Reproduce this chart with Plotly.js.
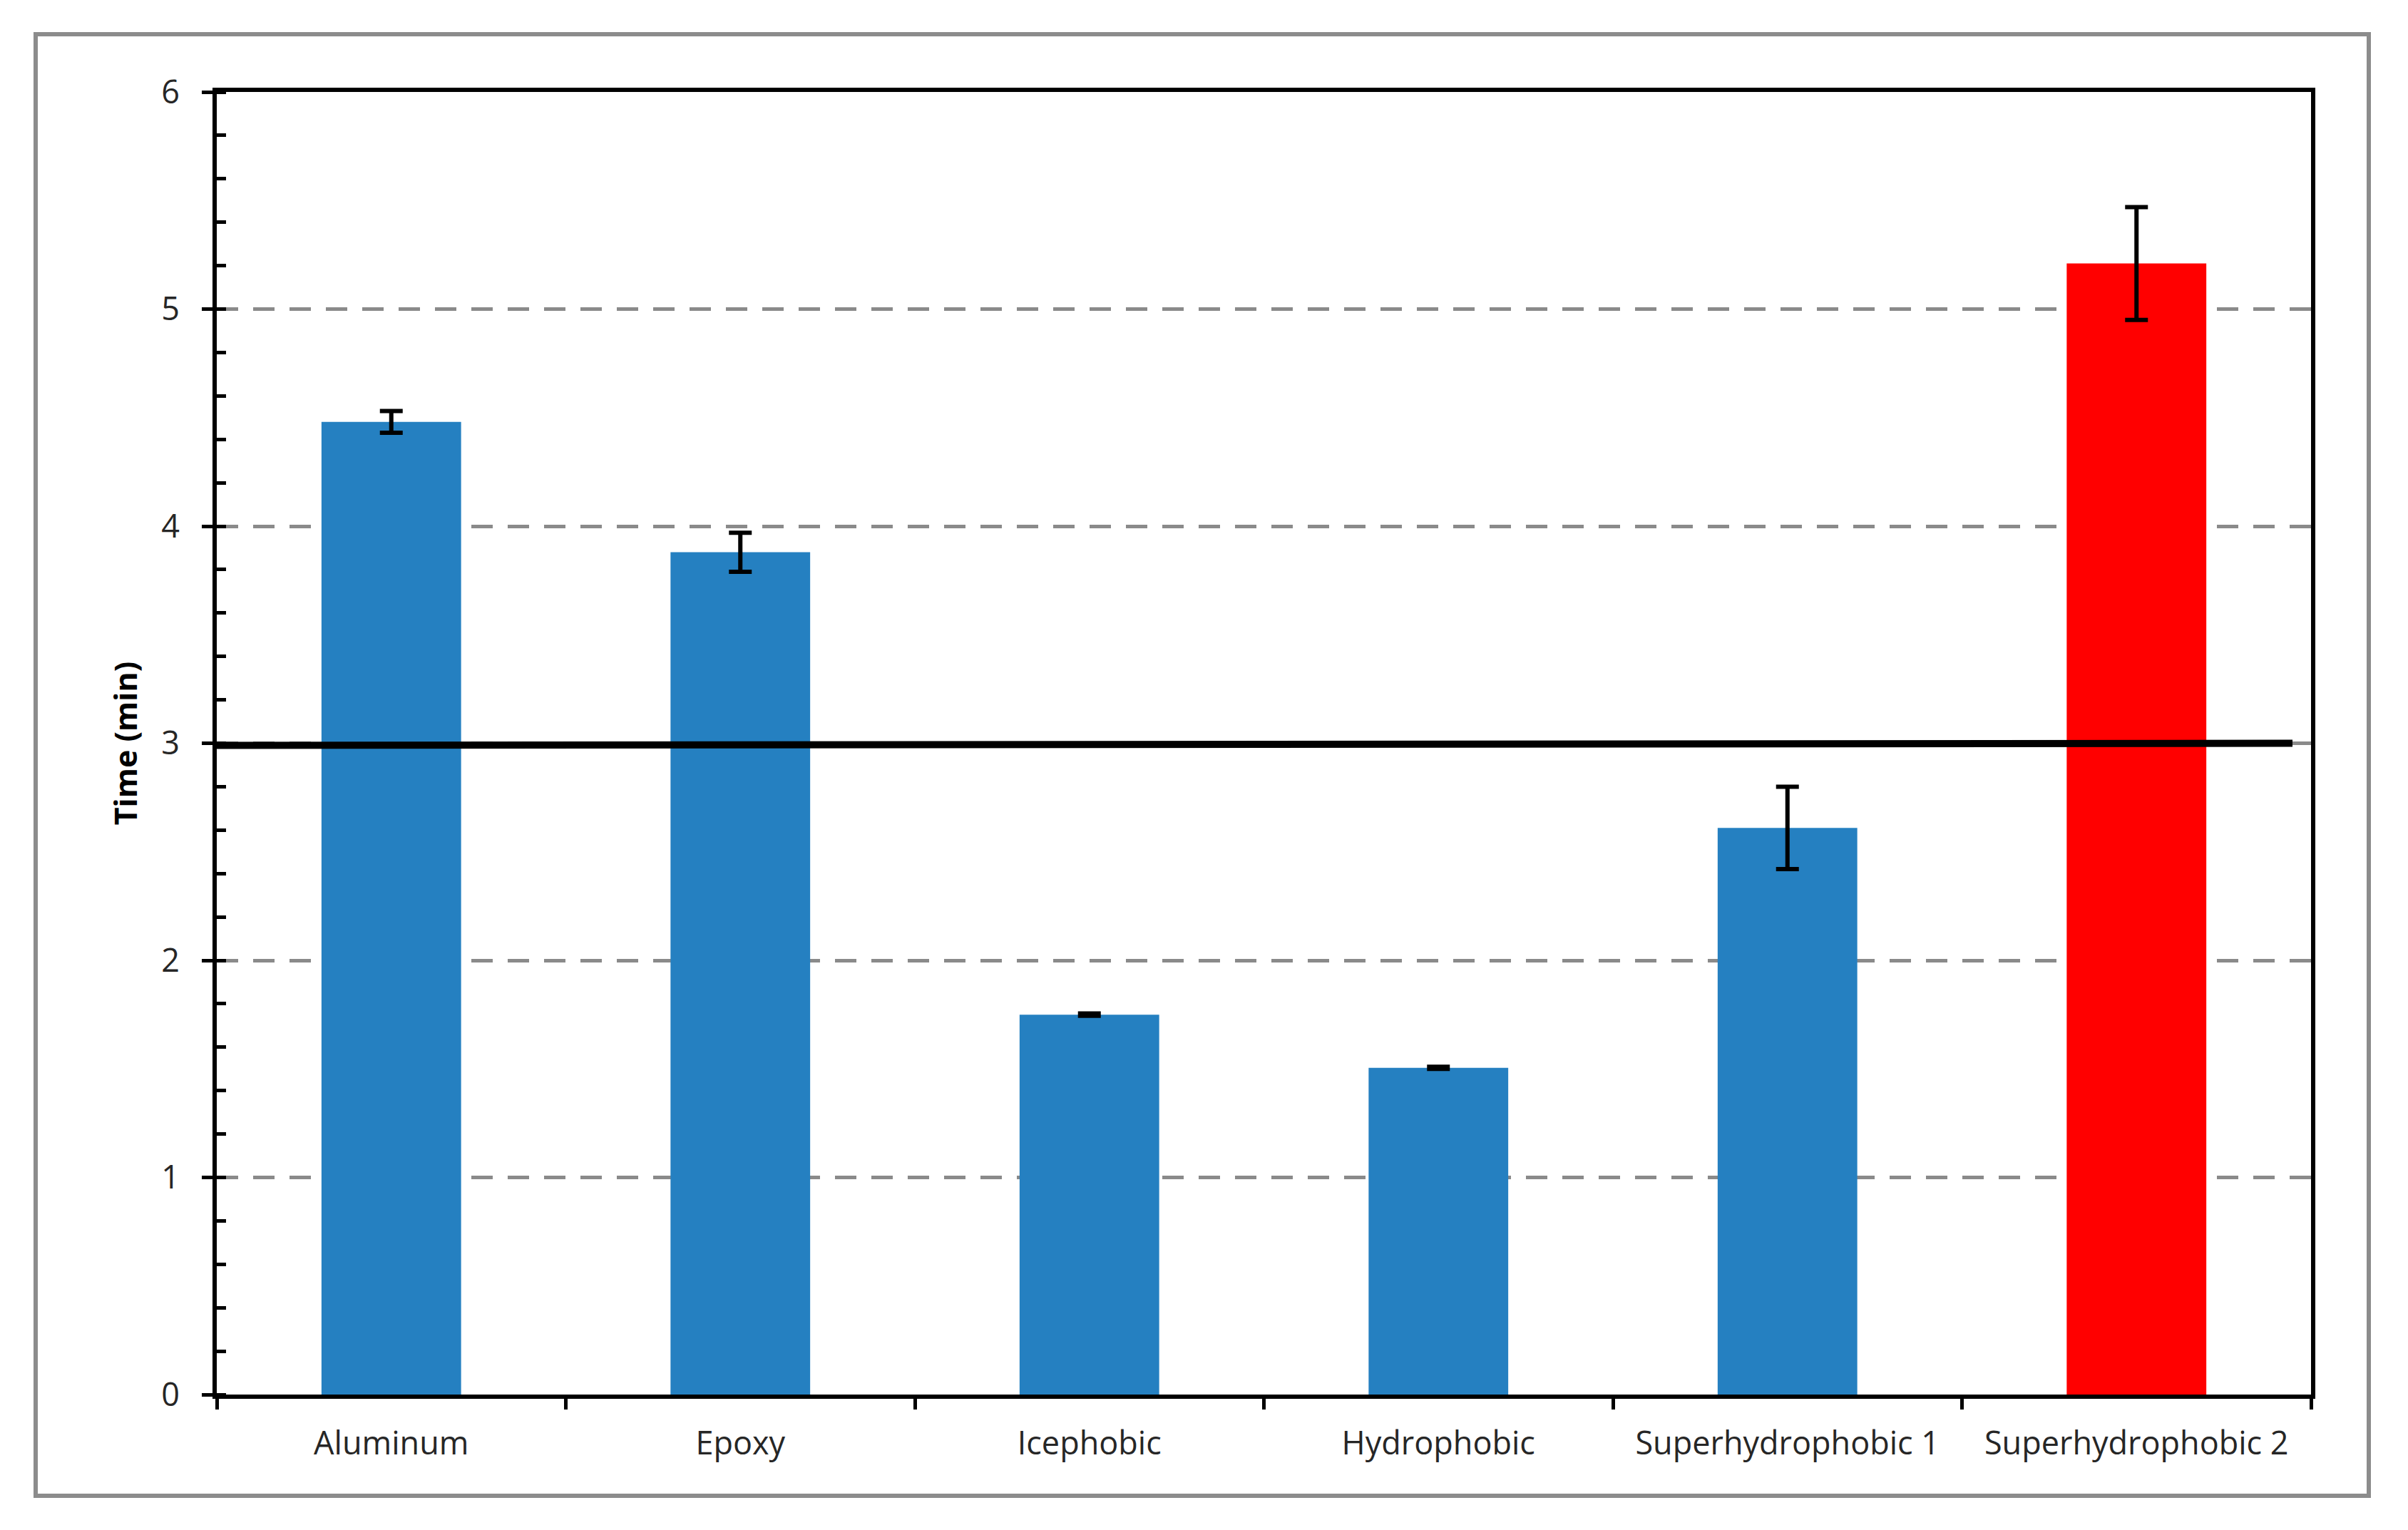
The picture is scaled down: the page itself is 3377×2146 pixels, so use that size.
<!DOCTYPE html>
<html>
<head>
<meta charset="utf-8">
<script src="https://cdn.plot.ly/plotly-3.0.1.min.js"></script>
<style>
  html, body { margin: 0; padding: 0; background: #ffffff; }
  #chart { width: 3377px; height: 2146px; }
</style>
</head>
<body>
<div id="chart"></div>
<script>
// ---- data ----
const categories = ['Aluminum', 'Epoxy', 'Icephobic', 'Hydrophobic', 'Superhydrophobic 1', 'Superhydrophobic 2'];
const times = [4.48, 3.88, 1.75, 1.505, 2.61, 5.21];
const timeErrors = [0.05, 0.09, 0.005, 0.005, 0.19, 0.26];
const barColors = ['#2580C1', '#2580C1', '#2580C1', '#2580C1', '#2580C1', '#FF0000'];
const yTickVals = [0, 1, 2, 3, 4, 5, 6];
const yTickText = ['0', '1', '2', '3', '4', '5', '6'];
const thresholdLine = [2.99, 3.0]; // reference line (left end, right end)

// ---- layout geometry (pixels) ----
const W = 3377, H = 2146;
const plotL = 304, plotR = 3241, plotT = 129, plotB = 1956;
const pw = plotR - plotL, ph = plotB - plotT;
const px2x = p => (p - plotL) / pw;
const px2y = p => (plotB - p) / ph;

const trace = {
  type: 'bar',
  x: categories,
  y: times,
  marker: { color: barColors, line: { width: 0 } },
  error_y: {
    type: 'data',
    array: timeErrors,
    visible: true,
    color: '#000000',
    thickness: 6,
    width: 16
  },
  hoverinfo: 'x+y'
};

const layout = {
  width: W,
  height: H,
  paper_bgcolor: '#ffffff',
  plot_bgcolor: '#ffffff',
  showlegend: false,
  bargap: 0.6,
  margin: { l: plotL, r: W - plotR, t: plotT, b: H - plotB, pad: 0 },
  font: { family: 'Open Sans, sans-serif', color: '#262626', size: 40 },
  xaxis: {
    type: 'category',
    range: [-0.5, 5.5],
    showline: true,
    linecolor: '#000000',
    linewidth: 6,
    mirror: true,
    ticks: 'outside',
    tickson: 'boundaries',
    ticklen: 15,
    tickwidth: 5,
    tickcolor: '#000000',
    tickfont: { family: 'Open Sans, sans-serif', size: 45, color: '#262626' },
    ticklabelstandoff: 24,
    showgrid: false,
    zeroline: false,
    fixedrange: true
  },
  yaxis: {
    range: [0, 6],
    tickvals: yTickVals,
    ticktext: yTickText,
    showline: true,
    linecolor: '#000000',
    linewidth: 6,
    mirror: true,
    ticks: 'outside',
    ticklen: 15,
    tickwidth: 5,
    tickcolor: '#000000',
    tickfont: { family: 'Open Sans, sans-serif', size: 45, color: '#262626' },
    ticklabelstandoff: 22,
    minor: {
      dtick: 0.2,
      ticks: 'inside',
      ticklen: 13,
      tickwidth: 5,
      tickcolor: '#000000',
      showgrid: false
    },
    showgrid: true,
    gridcolor: '#8a8a8a',
    gridwidth: 5,
    griddash: '30px,21px',
    zeroline: false,
    title: {
      text: '<b>Time (min)</b>',
      font: { family: 'Open Sans, sans-serif', size: 43, color: '#000000' },
      standoff: 22
    },
    fixedrange: true
  },
  shapes: [
    {
      type: 'rect',
      xref: 'paper', yref: 'paper',
      x0: px2x(50), x1: px2x(3322),
      y0: px2y(2098), y1: px2y(48),
      line: { color: '#8c8c8c', width: 6 },
      fillcolor: 'rgba(0,0,0,0)',
      layer: 'below'
    },
    {
      type: 'line',
      xref: 'paper', yref: 'y',
      x0: 0, x1: px2x(3215),
      y0: thresholdLine[0], y1: thresholdLine[1],
      line: { color: '#000000', width: 10 },
      layer: 'above'
    }
  ]
};

Plotly.newPlot('chart', [trace], layout, { displayModeBar: false, staticPlot: true });
</script>
</body>
</html>
